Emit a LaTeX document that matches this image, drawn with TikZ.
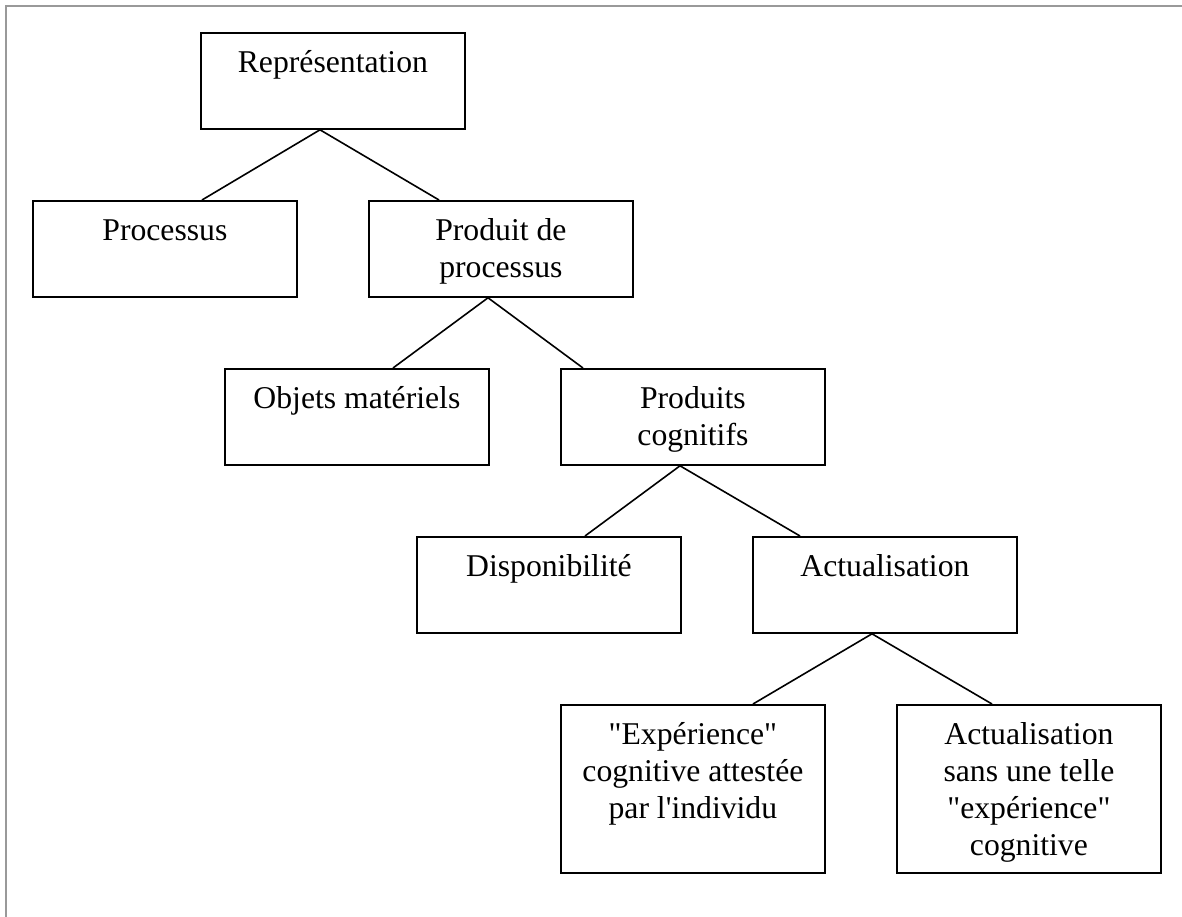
\documentclass[tikz,border=0pt]{standalone}
\usepackage{fontspec}
\newfontfamily\diagfont{Liberation Serif}
\usetikzlibrary{calc}
\tikzset{
  box/.style={draw, line width=1.8pt, minimum width=264pt, minimum height=96pt, inner sep=0pt, anchor=north west},
  tallbox/.style={box, minimum height=168pt},
  txt/.style={anchor=north, inner sep=0pt, align=center, font=\diagfont\fontsize{31.7}{37}\selectfont},
  link/.style={line width=1.6pt},
  frame/.style={draw=black!40, line width=2.2pt}
}
\newcommand{\putlabel}[3]{\node[txt] (#1) at ($(#2.north)+(0,14)$) {\strut #3};}
\begin{document}
\begin{tikzpicture}[x=1pt,y=-1pt]
\useasboundingbox (0,0) rectangle (1182,917);
% outer frame (top and left)
\draw[frame] (6,917) -- (6,6) -- (1182,6);
% boxes
\node[box] (R) at (200,32) {};
\node[box] (P) at (32,200) {};
\node[box] (PP) at (368,200) {};
\node[box] (O) at (224,368) {};
\node[box] (PC) at (560,368) {};
\node[box] (D) at (416,536) {};
\node[box] (A) at (752,536) {};
\node[tallbox] (E) at (560,704) {};
\node[tallbox] (S) at (896,704) {};
% texts
\putlabel{tR}{R}{Représentation}
\putlabel{tP}{P}{Processus}
\putlabel{tPP}{PP}{Produit de\\processus}
\putlabel{tO}{O}{Objets matériels}
\putlabel{tPC}{PC}{Produits\\cognitifs}
\putlabel{tD}{D}{Disponibilité}
\putlabel{tA}{A}{Actualisation}
\putlabel{tE}{E}{"Expérience"\\cognitive attestée\\par l'individu}
\putlabel{tS}{S}{Actualisation\\sans une telle\\"expérience"\\cognitive}
% junctions and end points
\coordinate (jR) at ($(R.south west)+(120,0)$);
\coordinate (eP) at ($(P.north west)+(170,0)$);
\coordinate (ePP) at ($(PP.north west)+(71,0)$);
\coordinate (jPP) at ($(PP.south west)+(120,0)$);
\coordinate (eO) at ($(O.north west)+(169,0)$);
\coordinate (ePC) at ($(PC.north west)+(23,0)$);
\coordinate (jPC) at ($(PC.south west)+(120,0)$);
\coordinate (eD) at ($(D.north west)+(169,0)$);
\coordinate (eA) at ($(A.north west)+(48,0)$);
\coordinate (jA) at ($(A.south west)+(120,0)$);
\coordinate (eE) at ($(E.north west)+(193,0)$);
\coordinate (eS) at ($(S.north west)+(96,0)$);
% connectors
\draw[link] (eP) -- (jR) -- (ePP);
\draw[link] (eO) -- (jPP) -- (ePC);
\draw[link] (eD) -- (jPC) -- (eA);
\draw[link] (eE) -- (jA) -- (eS);
\end{tikzpicture}
\end{document}
